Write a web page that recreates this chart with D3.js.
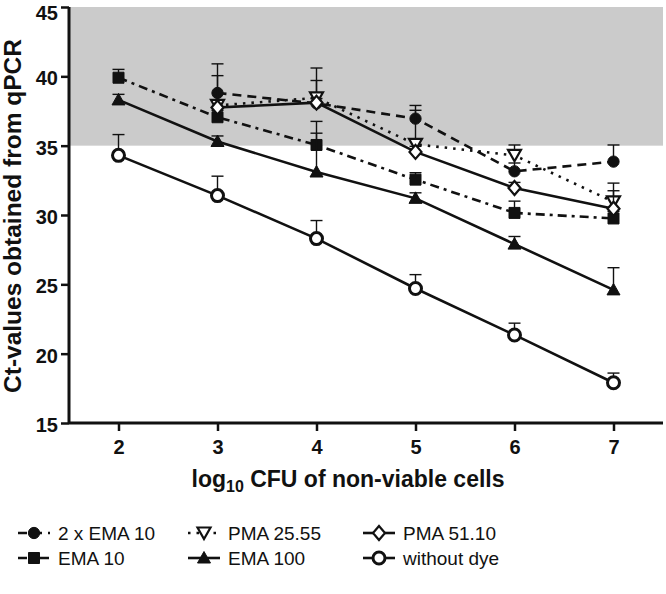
<!DOCTYPE html>
<html><head><meta charset="utf-8">
<script src="https://cdn.jsdelivr.net/npm/d3@7"></script>
<style>
html,body{margin:0;padding:0;background:#fff;}
svg{display:block;font-family:"Liberation Sans",Arial,Helvetica,sans-serif;}
</style></head>
<body><svg id="c" width="666" height="594"></svg>
<script>
// ---- data ----
const logCFU = [2, 3, 4, 5, 6, 7];
const xTicks = [2, 3, 4, 5, 6, 7];
const yTicks = [15, 20, 25, 30, 35, 40, 45];
const shadeBand = [35, 45];

const seriesNames = ["2 x EMA 10", "EMA 10", "PMA 25.55", "EMA 100", "PMA 51.10", "without dye"];
const ema2x10     = [null, 38.8, 38.05, 36.95, 33.15, 33.85];
const ema2x10Err  = [null, 2.1, 2.55, 0.95, 0.6, 1.2];
const ema10       = [39.9, 37.05, 35.05, 32.55, 30.15, 29.75];
const ema10Err    = [0.6, 0.5, 1.7, 0.5, 0.85, 0.5];
const pma2555     = [null, 37.9, 38.45, 35.1, 34.3, 30.95];
const pma2555Err  = [null, 0.3, 1.25, 2.45, 0.75, 1.35];
const ema100      = [38.3, 35.3, 33.1, 31.2, 27.9, 24.6];
const ema100Err   = [0.4, 0.4, 2.8, 0.4, 0.55, 1.6];
const pma5110     = [null, 37.75, 38.1, 34.55, 31.95, 30.45];
const pma5110Err  = [null, 2.3, 0.3, 0.4, 0.4, 1.3];
const withoutDye    = [34.3, 31.4, 28.3, 24.7, 21.35, 17.9];
const withoutDyeErr = [1.5, 1.4, 1.3, 1.0, 0.85, 0.7];

// ---- styles ----
const ink = "#111";
const styles = {
  "2 x EMA 10":  {dash: "9,6", marker: "dot", open: false},
  "EMA 10":      {dash: "9,5,3,5", marker: "square", open: false},
  "PMA 25.55":   {dash: "2.5,6", marker: "tridown", open: true},
  "EMA 100":     {dash: null, marker: "triup", open: false},
  "PMA 51.10":   {dash: null, marker: "diamond", open: true},
  "without dye": {dash: null, marker: "circle", open: true}
};
const values = {"2 x EMA 10": ema2x10, "EMA 10": ema10, "PMA 25.55": pma2555, "EMA 100": ema100, "PMA 51.10": pma5110, "without dye": withoutDye};
const errors = {"2 x EMA 10": ema2x10Err, "EMA 10": ema10Err, "PMA 25.55": pma2555Err, "EMA 100": ema100Err, "PMA 51.10": pma5110Err, "without dye": withoutDyeErr};

const svg = d3.select("#c");
const x = d3.scaleLinear().domain([1.5, 7.5]).range([69, 663]);
const y = d3.scaleLinear().domain([15, 45]).range([423, 7]);

// shaded band
svg.append("rect")
  .attr("x", x(1.5)).attr("width", x(7.5) - x(1.5))
  .attr("y", y(shadeBand[1])).attr("height", y(shadeBand[0]) - y(shadeBand[1]))
  .attr("fill", "#cbcbcb");

function markerPath(kind) {
  switch (kind) {
    case "dot": return d3.symbol(d3.symbolCircle, 100)();
    case "square": return "M-5.5,-5.5H5.5V5.5H-5.5Z";
    case "triup": return "M0,-6.5L6.5,5L-6.5,5Z";
    case "tridown": return "M-6.5,-5.5L6.5,-5.5L0,6Z";
    case "diamond": return "M0,-7L6,0L0,7L-6,0Z";
    case "circle": return d3.symbol(d3.symbolCircle, 113)();
  }
}
function styleMarker(sel, st) {
  sel.attr("d", markerPath(st.marker))
    .attr("fill", st.open ? "#fff" : ink)
    .attr("stroke", ink)
    .attr("stroke-width", st.marker === "circle" ? 3 : (st.open ? 2.2 : 1));
}

const line = d3.line().defined(d => d.v != null).x(d => x(d.x)).y(d => y(d.v));

seriesNames.forEach(name => {
  const st = styles[name];
  const pts = logCFU.map((xv, i) => ({x: xv, v: values[name][i], e: errors[name][i]}));
  const g = svg.append("g");
  g.append("path").datum(pts).attr("d", line)
    .attr("fill", "none").attr("stroke", ink).attr("stroke-width", 2.6)
    .attr("stroke-dasharray", st.dash);
  const valid = pts.filter(d => d.v != null);
  const eb = g.selectAll(".eb").data(valid).enter().append("g");
  eb.append("line").attr("x1", d => x(d.x)).attr("x2", d => x(d.x))
    .attr("y1", d => y(d.v)).attr("y2", d => y(d.v + d.e))
    .attr("stroke", ink).attr("stroke-width", 1.4);
  eb.append("line").attr("x1", d => x(d.x) - 6).attr("x2", d => x(d.x) + 6)
    .attr("y1", d => y(d.v + d.e)).attr("y2", d => y(d.v + d.e))
    .attr("stroke", ink).attr("stroke-width", 1.4);
  g.selectAll(".mk").data(valid).enter().append("path")
    .attr("transform", d => `translate(${x(d.x)},${y(d.v)})`)
    .call(styleMarker, st);
});

// axes
const yAxis = svg.append("g").attr("transform", `translate(${x(1.5)},0)`)
  .call(d3.axisLeft(y).tickValues(yTicks).tickFormat(d3.format("d")).tickSize(8).tickPadding(3));
const xAxis = svg.append("g").attr("transform", `translate(0,${y(15)})`)
  .call(d3.axisBottom(x).tickValues(xTicks).tickFormat(d3.format("d")).tickSize(8).tickPadding(9));
[yAxis, xAxis].forEach(a => {
  a.select(".domain").attr("stroke", ink).attr("stroke-width", 3);
  a.selectAll(".tick line").attr("stroke", ink).attr("stroke-width", 2.5);
  a.selectAll(".tick text").attr("fill", ink).attr("font-size", 20).attr("font-weight", "bold")
    .attr("font-family", "Liberation Sans, Arial, sans-serif");
});
yAxis.selectAll(".tick text").attr("dy", d => d === 45 ? "0.62em" : "0.42em");
yAxis.select(".domain").attr("d", `M0,${y(45)}V${y(15)}`);
xAxis.select(".domain").attr("d", `M${x(1.5)},0H${x(7.5)}`);

// axis titles
const xt = svg.append("text").attr("transform", "translate(348,487)")
  .attr("text-anchor", "middle").attr("font-size", 23).attr("font-weight", "bold").attr("fill", ink);
xt.append("tspan").text("log");
xt.append("tspan").attr("font-size", 16).attr("dy", 5).text("10");
xt.append("tspan").attr("dy", -5).text(" CFU of non-viable cells");

svg.append("text").attr("transform", "translate(21,216) rotate(-90)")
  .attr("text-anchor", "middle").attr("font-size", 24.5).attr("font-weight", "bold").attr("fill", ink)
  .text("Ct-values obtained from qPCR");

// legend
const legendOrder = ["2 x EMA 10", "PMA 25.55", "PMA 51.10", "EMA 10", "EMA 100", "without dye"];
const colX = [18, 188, 363];
const rowY = [533, 558];
legendOrder.forEach((name, i) => {
  const st = styles[name];
  const cx = colX[i % 3], cy = rowY[Math.floor(i / 3)];
  const g = svg.append("g").attr("transform", `translate(${cx},${cy})`);
  g.append("line").attr("x1", 0).attr("x2", 32).attr("y1", 0).attr("y2", 0)
    .attr("stroke", ink).attr("stroke-width", 2.6).attr("stroke-dasharray", st.dash);
  g.append("path").attr("transform", "translate(16,0)").call(styleMarker, st);
  g.append("text").attr("x", 40).attr("y", 7).attr("font-size", 19).attr("fill", ink).text(name);
});
</script></body></html>
